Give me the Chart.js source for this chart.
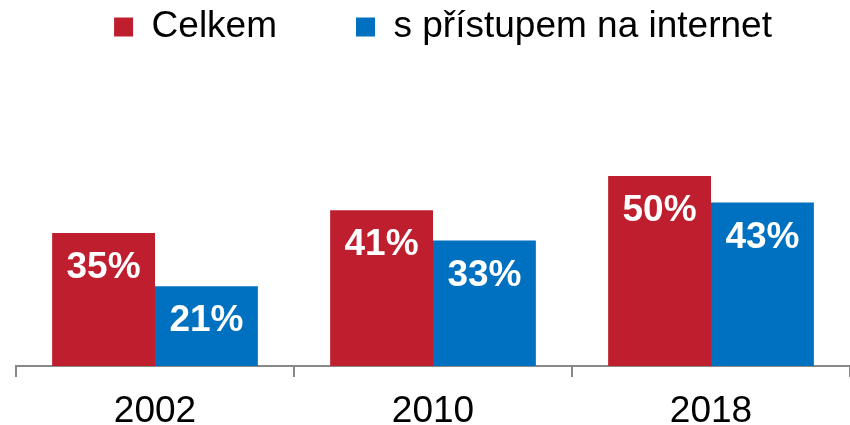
<!DOCTYPE html>
<html lang="cs">
<head>
    <meta charset="UTF-8">
    <title>Celkem vs. s přístupem na internet</title>
    <script src="https://cdn.jsdelivr.net/npm/chart.js"></script>
    <style>
        html, body {
            margin: 0;
            padding: 0;
            background: #ffffff;
        }
        .wrap {
            width: 850px;
            height: 425px;
        }
    </style>
</head>
<body>
    <div class="wrap">
        <canvas id="chart" width="850" height="425"></canvas>
    </div>

    <script>
        // data
        const years = ['2002', '2010', '2018'];
        const celkem = [35, 41, 50];
        const sInternetem = [21, 33, 43];
        const seriesNames = ['Celkem', 's přístupem na internet'];

        const RED = '#BE1E2D';
        const BLUE = '#0070C0';
        const FONT = 'Arial, "Liberation Sans", sans-serif';

        // white percent labels inside the bars, just under the top edge
        const valueLabels = {
            id: 'valueLabels',
            afterDatasetsDraw(chart) {
                const ctx = chart.ctx;
                ctx.save();
                ctx.fillStyle = '#ffffff';
                ctx.font = 'bold 37px ' + FONT;
                ctx.textAlign = 'center';
                ctx.textBaseline = 'middle';
                chart.data.datasets.forEach((ds, i) => {
                    const meta = chart.getDatasetMeta(i);
                    meta.data.forEach((bar, j) => {
                        ctx.fillText(ds.data[j] + '%', bar.x, bar.y + 35);
                    });
                });
                ctx.restore();
            }
        };

        // the legend in the original sits a bit right of centre
        const nudgeLegend = {
            id: 'nudgeLegend',
            afterLayout(chart) {
                if (chart.legend) {
                    chart.legend.left += 10;
                    chart.legend.right += 10;
                }
            }
        };

        new Chart(document.getElementById('chart'), {
            type: 'bar',
            data: {
                labels: years,
                datasets: [
                    { label: seriesNames[0], data: celkem, backgroundColor: RED },
                    { label: seriesNames[1], data: sInternetem, backgroundColor: BLUE }
                ]
            },
            options: {
                responsive: false,
                animation: false,
                // negative top/bottom pull legend and tick labels toward the edges
                layout: { padding: { top: -70.5, left: 16, right: 0, bottom: -20.7 } },
                datasets: {
                    bar: { categoryPercentage: 0.74, barPercentage: 1.0 }
                },
                plugins: {
                    legend: {
                        position: 'top',
                        labels: {
                            boxWidth: 19,
                            boxHeight: 19,
                            padding: 79,
                            color: '#000000',
                            font: { family: FONT, size: 37 }
                        }
                    },
                    tooltip: { enabled: false }
                },
                scales: {
                    x: {
                        border: { color: '#888888', width: 2 },
                        grid: {
                            display: true,
                            drawOnChartArea: false,
                            drawTicks: true,
                            tickLength: 11,
                            color: '#888888',
                            lineWidth: 2
                        },
                        ticks: {
                            color: '#000000',
                            padding: 17.7,
                            font: { family: FONT, size: 37, lineHeight: 0.9 }
                        }
                    },
                    y: {
                        display: false,
                        min: 0,
                        max: 81.7
                    }
                }
            },
            plugins: [valueLabels, nudgeLegend]
        });
    </script>
</body>
</html>
